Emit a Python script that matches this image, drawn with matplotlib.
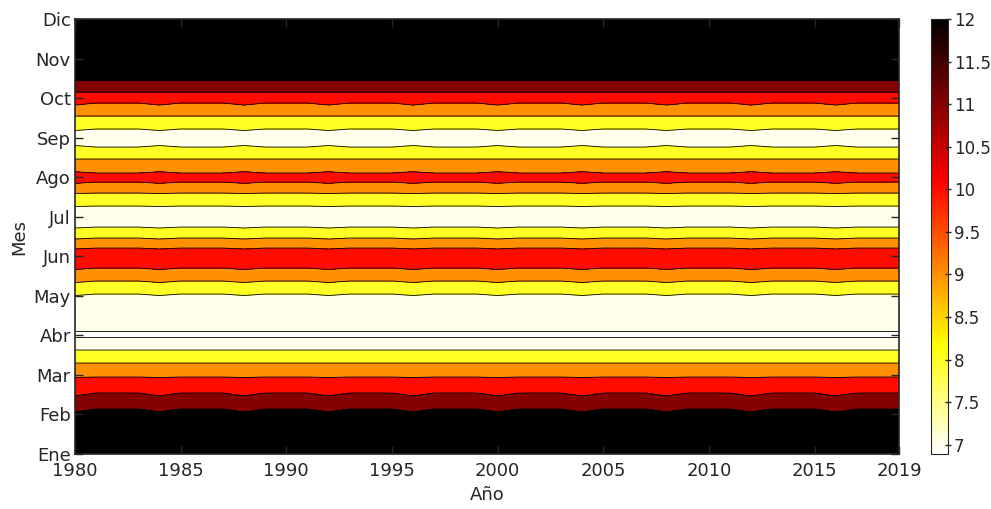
import numpy as np
import matplotlib
matplotlib.use('Agg')
import matplotlib.pyplot as plt
from matplotlib.colors import Normalize, LinearSegmentedColormap
from matplotlib.cm import ScalarMappable

plt.rcParams['font.family'] = ['DejaVu Sans']

# años del registro y años bisiestos (perfil ligeramente desplazado)
years = np.arange(1980, 2020)
leap_years = [1980, 1984, 1988, 1992, 1996, 2000, 2004, 2008, 2012, 2016]

# perfil anual: posición en el eje de meses (1 = Ene, 12 = Dic) y valor
month_nodes = [1.000, 2.138, 2.543, 2.947, 3.301, 3.630, 3.959, 4.035, 4.110,
               5.046, 5.375, 5.704, 5.956, 6.209, 6.462, 6.740, 7.018, 7.271,
               7.600, 7.878, 8.005, 8.106, 8.460, 8.763, 8.991, 9.219, 9.547,
               9.876, 10.154, 10.445, 12.000]
month_nodes_leap = [1.000, 2.062, 2.467, 2.935, 3.301, 3.630, 3.959, 4.035, 4.110,
                    5.008, 5.337, 5.666, 5.931, 6.184, 6.437, 6.715, 7.018, 7.259,
                    7.587, 7.845, 8.005, 8.139, 8.460, 8.801, 8.991, 9.181, 9.547,
                    9.825, 10.154, 10.445, 12.000]
node_values = [12, 12, 11, 10, 9, 8, 7, 6.89, 7, 8, 9, 10, 10.5, 10, 9, 8, 7.4, 8,
               9, 10, 10.3, 10, 9, 8, 7.3, 8, 9, 10, 11, 12, 12]

month_labels = ['Ene', 'Feb', 'Mar', 'Abr', 'May', 'Jun',
                'Jul', 'Ago', 'Sep', 'Oct', 'Nov', 'Dic']
year_ticks = [1980, 1985, 1990, 1995, 2000, 2005, 2010, 2015, 2019]
cbar_ticks = [7, 7.5, 8, 8.5, 9, 9.5, 10, 10.5, 11, 11.5, 12]

# malla (año x mes)
X, Y = np.meshgrid(years, month_nodes)
for i, yr in enumerate(years):
    if yr in leap_years:
        Y[:, i] = month_nodes_leap
Z = np.tile(np.array(node_values, dtype=float)[:, None], (1, len(years)))

# mapa "hot" invertido: blanco -> amarillo -> rojo -> negro
cmap = LinearSegmentedColormap.from_list(
    'hot_inv', [(0.0, 'white'), (0.25, 'yellow'), (0.625, 'red'), (1.0, 'black')])
vmin, vmax = 6.89, 12.0
norm = Normalize(vmin=vmin, vmax=vmax)
fill_levels = [vmin, 7, 8, 9, 10, 11, 11.999, 12]
fill_colors = [cmap(norm(v)) for v in [vmin, 7, 8, 9, 10, 11, 12]]

fig = plt.figure(figsize=(9.91, 5.09), dpi=100)
ax = fig.add_axes([0.0757, 0.108, 0.8315, 0.8546])

ax.contourf(X, Y, Z, levels=fill_levels, colors=fill_colors)
ax.contour(X, Y, Z, levels=[7, 8, 9, 10, 11, 11.999], colors='k', linewidths=0.6)

ax.set_xlim(1980, 2019)
ax.set_ylim(1, 12)
ax.set_xticks(year_ticks)
ax.set_yticks(range(1, 13))
ax.set_yticklabels(month_labels)
axis_col = '#262626'
ax.tick_params(direction='in', length=5.5, width=1, colors=axis_col,
               labelsize=13, top=True, right=True, pad=3)
ax.tick_params(axis='x', pad=6)
for s in ax.spines.values():
    s.set_color(axis_col)
    s.set_linewidth(1.2)
ax.set_xlabel('Año', fontsize=13, color=axis_col, labelpad=4)
ax.set_ylabel('Mes', fontsize=13, color=axis_col, labelpad=4)

# barra de color continua
cax = fig.add_axes([0.9395, 0.108, 0.0172, 0.8546])
cb = fig.colorbar(ScalarMappable(norm=norm, cmap=cmap), cax=cax)
cb.set_ticks(cbar_ticks)
cb.set_ticklabels(['7', '7.5', '8', '8.5', '9', '9.5', '10', '10.5', '11', '11.5', '12'])
cb.ax.tick_params(direction='inout', length=4, width=1, colors=axis_col,
                  labelsize=12, pad=2)
cb.outline.set_edgecolor(axis_col)
cb.outline.set_linewidth(0.8)

fig.savefig('out.png', dpi=100)
